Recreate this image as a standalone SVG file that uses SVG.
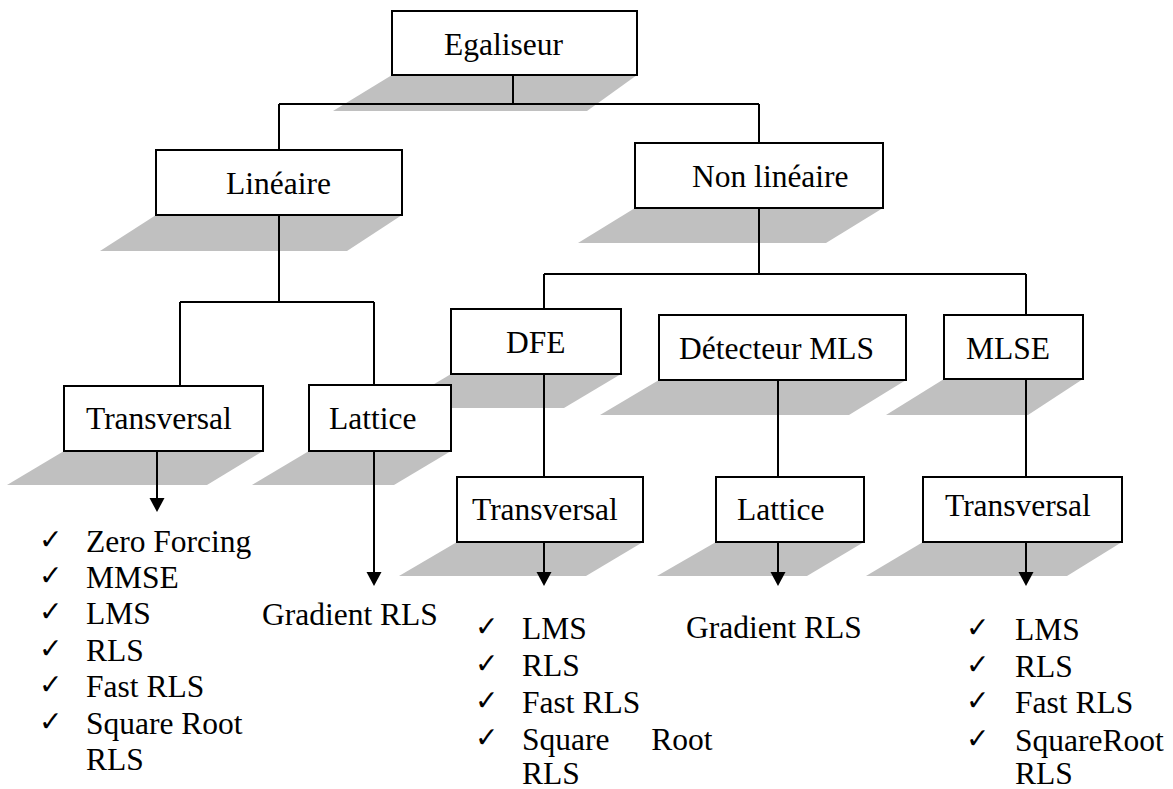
<svg xmlns="http://www.w3.org/2000/svg" width="1173" height="789" viewBox="0 0 1173 789">
  <style>
    .shadow { fill: #c0c0c0; stroke: none; }
    .box { fill: #ffffff; stroke: #000000; stroke-width: 2; }
    .link { fill: none; stroke: #000000; stroke-width: 2; }
    .lbl { font-family: "Liberation Serif", serif; font-size: 31.5px; fill: #000000; }
    .chk { font-family: "DejaVu Sans", sans-serif; font-size: 28px; fill: #000000; }
  </style>
  <defs>
    <!-- downward solid arrowhead; tip lands 8px below the line end -->
    <marker id="arrow" markerUnits="userSpaceOnUse" markerWidth="16" markerHeight="16" viewBox="0 0 16 16" refX="8" refY="6">
      <path d="M0.5,0 L15.5,0 L8,14 Z" fill="#000000"/>
    </marker>
  </defs>

  <rect width="1173" height="789" fill="#ffffff"/>

  <!-- drop shadows (drawn first, behind everything) -->
  <g id="shadows">
    <polygon class="shadow" points="392,75 637,75 587,111 333,111"/>
    <polygon class="shadow" points="156,215 402,215 347,251 100,251"/>
    <polygon class="shadow" points="635,208 883,208 826,243 578,243"/>
    <polygon class="shadow" points="451,374 621,374 564,408 394,408"/>
    <polygon class="shadow" points="659,380 906,380 849,415 600,415"/>
    <polygon class="shadow" points="944,379 1083,379 1028,415 886,415"/>
    <polygon class="shadow" points="64,451 263,451 207,485 7,485"/>
    <polygon class="shadow" points="309,451 451,451 394,485 252,485"/>
    <polygon class="shadow" points="457,542 643,542 586,576 399,576"/>
    <polygon class="shadow" points="716,542 864,542 807,576 657,576"/>
    <polygon class="shadow" points="923,542 1122,542 1067,576 866,576"/>
  </g>

  <!-- connectors -->
  <g id="connectors">
    <path class="link" d="M513,75 V104 M279,104 H759 M279,104 V150 M759,104 V143"/>
    <path class="link" d="M279,215 V302 M180,302 H374 M180,302 V386 M374,302 V385"/>
    <path class="link" d="M759,208 V274 M544,274 H1026 M544,274 V309 M1026,274 V315"/>
    <path class="link" d="M544,374 V477 M778,380 V477 M1026,379 V477"/>
    <path class="link" d="M157,451 V504" marker-end="url(#arrow)"/>
    <path class="link" d="M374,451 V578" marker-end="url(#arrow)"/>
    <path class="link" d="M544,542 V578" marker-end="url(#arrow)"/>
    <path class="link" d="M778,542 V578" marker-end="url(#arrow)"/>
    <path class="link" d="M1026,542 V578" marker-end="url(#arrow)"/>
  </g>

  <g id="egaliseur">
    <rect class="box" x="392" y="11" width="245" height="64"/>
    <text class="lbl" x="444" y="55">Egaliseur</text>
  </g>
  <g id="lineaire">
    <rect class="box" x="156" y="150" width="246" height="65"/>
    <text class="lbl" x="226" y="194">Linéaire</text>
  </g>
  <g id="non-lineaire">
    <rect class="box" x="635" y="143" width="248" height="65"/>
    <text class="lbl" x="692" y="187">Non linéaire</text>
  </g>
  <g id="dfe">
    <rect class="box" x="451" y="309" width="170" height="65"/>
    <text class="lbl" x="506" y="353">DFE</text>
  </g>
  <g id="detecteur-mls">
    <rect class="box" x="659" y="315" width="247" height="65"/>
    <text class="lbl" x="679" y="359">Détecteur MLS</text>
  </g>
  <g id="mlse">
    <rect class="box" x="944" y="315" width="139" height="64"/>
    <text class="lbl" x="966" y="359">MLSE</text>
  </g>
  <g id="lin-transversal">
    <rect class="box" x="64" y="386" width="199" height="65"/>
    <text class="lbl" x="86" y="429">Transversal</text>
  </g>
  <g id="lin-lattice">
    <rect class="box" x="309" y="385" width="142" height="66"/>
    <text class="lbl" x="329" y="429">Lattice</text>
  </g>
  <g id="dfe-transversal">
    <rect class="box" x="457" y="477" width="186" height="65"/>
    <text class="lbl" x="472" y="520">Transversal</text>
  </g>
  <g id="mls-lattice">
    <rect class="box" x="716" y="477" width="148" height="65"/>
    <text class="lbl" x="737" y="520">Lattice</text>
  </g>
  <g id="mlse-transversal">
    <rect class="box" x="923" y="477" width="199" height="65"/>
    <text class="lbl" x="945" y="516">Transversal</text>
  </g>

  <!-- algorithm lists -->
  <g id="list-lin-transversal">
    <text class="chk" x="39" y="549">✓</text>
    <text class="chk" x="39" y="585">✓</text>
    <text class="chk" x="39" y="621">✓</text>
    <text class="chk" x="39" y="658">✓</text>
    <text class="chk" x="39" y="694">✓</text>
    <text class="chk" x="39" y="731">✓</text>
    <text class="lbl" x="86" y="552">Zero Forcing</text>
    <text class="lbl" x="86" y="588">MMSE</text>
    <text class="lbl" x="86" y="624">LMS</text>
    <text class="lbl" x="86" y="661">RLS</text>
    <text class="lbl" x="86" y="697">Fast RLS</text>
    <text class="lbl" x="86" y="734">Square Root</text>
    <text class="lbl" x="86" y="770">RLS</text>
  </g>
  <g id="list-lin-lattice">
    <text class="lbl" x="262" y="625">Gradient RLS</text>
  </g>
  <g id="list-dfe-transversal">
    <text class="chk" x="475" y="636">✓</text>
    <text class="chk" x="475" y="673">✓</text>
    <text class="chk" x="475" y="710">✓</text>
    <text class="chk" x="475" y="747">✓</text>
    <text class="lbl" x="522" y="639">LMS</text>
    <text class="lbl" x="522" y="676">RLS</text>
    <text class="lbl" x="522" y="713">Fast RLS</text>
    <text class="lbl" x="522" y="750" word-spacing="34">Square Root</text>
    <text class="lbl" x="522" y="784">RLS</text>
  </g>
  <g id="list-mls-lattice">
    <text class="lbl" x="686" y="638">Gradient RLS</text>
  </g>
  <g id="list-mlse-transversal">
    <text class="chk" x="966" y="637">✓</text>
    <text class="chk" x="966" y="674">✓</text>
    <text class="chk" x="966" y="710">✓</text>
    <text class="chk" x="966" y="748">✓</text>
    <text class="lbl" x="1015" y="640">LMS</text>
    <text class="lbl" x="1015" y="677">RLS</text>
    <text class="lbl" x="1015" y="713">Fast RLS</text>
    <text class="lbl" x="1015" y="751">SquareRoot</text>
    <text class="lbl" x="1015" y="784">RLS</text>
  </g>
</svg>
